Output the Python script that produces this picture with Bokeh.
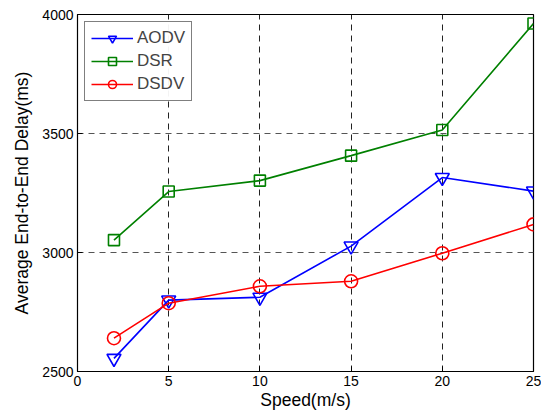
from bokeh.plotting import figure
from bokeh.models import Range1d, FixedTicker, Legend, LegendItem
from bokeh.embed import file_html
from bokeh.resources import INLINE

speed = [2, 5, 10, 15, 20, 25]
aodv = [2555, 2800, 2812, 3027, 3315, 3258]
dsr = [3052, 3256, 3302, 3407, 3515, 3962]
dsdv = [2640, 2787, 2858, 2879, 2997, 3118]
x_ticks = [0, 5, 10, 15, 20, 25]
y_ticks = [2500, 3000, 3500, 4000]

FONT = "Liberation Sans"

p = figure(width=541, height=412, output_backend="svg", toolbar_location=None,
           x_range=Range1d(0, 25), y_range=Range1d(2500, 4000),
           min_border_left=77, min_border_right=8, min_border_top=14, min_border_bottom=39)
p.background_fill_color = "white"
p.border_fill_color = "white"
p.outline_line_color = "black"
p.outline_line_width = 1.2

for ax in (p.xaxis, p.yaxis):
    ax.axis_line_color = "black"
    ax.major_tick_in = 5
    ax.major_tick_out = 0
    ax.minor_tick_line_color = None
    ax.major_label_text_font = FONT
    ax.major_label_text_font_size = "14px"
    ax.major_label_text_color = "black"
    ax.axis_label_text_font = FONT
    ax.axis_label_text_font_size = "17.5px"
    ax.axis_label_text_font_style = "normal"
    ax.axis_label_text_color = "black"
p.xaxis.ticker = FixedTicker(ticks=x_ticks)
p.yaxis.ticker = FixedTicker(ticks=y_ticks)
p.xaxis.axis_label = "Speed(m/s)"
p.yaxis.axis_label = "Average End-to-End Delay(ms)"
p.xaxis.axis_label_standoff = 1
p.yaxis.axis_label_standoff = 7
p.xaxis.major_label_standoff = 4
p.yaxis.major_label_standoff = 4

p.xgrid.grid_line_color = "#222222"
p.ygrid.grid_line_color = "#555555"
for g in (p.xgrid, p.ygrid):
    g.grid_line_dash = "6 5"
    g.grid_line_width = 1

l1 = p.line(speed, aodv, line_color="blue", line_width=1.6)
m1 = p.scatter(speed, aodv, marker="inverted_triangle", size=14, fill_color=None,
               line_color="blue", line_width=1.6)
l2 = p.line(speed, dsr, line_color="green", line_width=1.6)
m2 = p.scatter(speed, dsr, marker="square", size=11, fill_color=None,
               line_color="green", line_width=1.6)
l3 = p.line(speed, dsdv, line_color="red", line_width=1.6)
m3 = p.scatter(speed, dsdv, marker="circle", size=13, fill_color=None,
               line_color="red", line_width=1.6)

legend = Legend(items=[LegendItem(label="AODV", renderers=[l1, m1]),
                       LegendItem(label="DSR", renderers=[l2, m2]),
                       LegendItem(label="DSDV", renderers=[l3, m3])],
                location="top_left")
legend.label_text_font = FONT
legend.label_text_font_size = "17px"
legend.border_line_color = "black"
legend.border_line_width = 1
legend.margin = 7
legend.padding = 6
legend.spacing = 3
legend.glyph_width = 42
legend.label_standoff = 4
legend.label_height = 20
legend.glyph_height = 20
p.add_layout(legend)

open("out.html", "w").write(file_html(p, INLINE))
